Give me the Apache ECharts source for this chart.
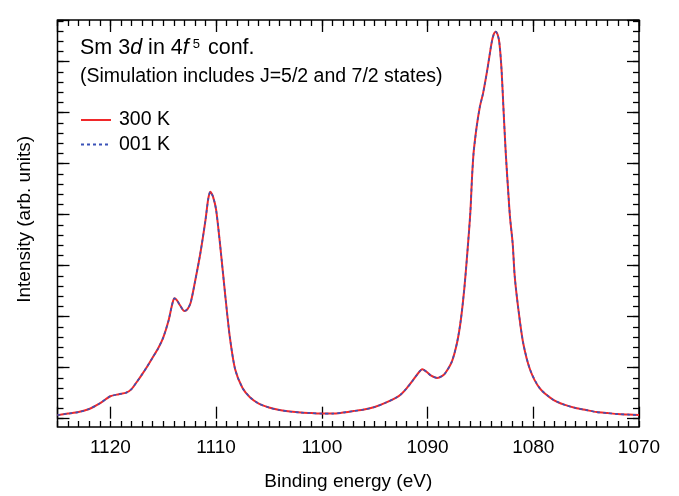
<!DOCTYPE html>
<html>
<head>
<meta charset="utf-8">
<script src="https://cdn.jsdelivr.net/npm/echarts@6/dist/echarts.min.js"></script>
<style>
html,body{margin:0;padding:0;background:#fff}
#chart{width:679px;height:496px}
</style>
</head>
<body>
<div id="chart"></div>
<script>
// binding energy (eV)
var energy = [1125, 1124, 1123, 1122, 1121, 1120, 1119.2, 1118.5, 1118, 1117.5, 1117, 1116.5, 1116, 1115.5, 1115, 1114.5, 1114.2, 1113.95, 1113.7, 1113.4, 1113, 1112.7, 1112.4, 1112, 1111.5, 1111, 1110.75, 1110.55, 1110.3, 1110, 1109.6, 1109.1, 1108.7, 1108.2, 1107.5, 1106.8, 1106, 1105, 1104, 1103, 1102, 1101, 1100, 1099, 1098, 1097, 1096, 1095, 1094, 1093, 1092.5, 1092, 1091.5, 1091, 1090.5, 1090.1, 1089.7, 1089.1, 1088.6, 1088.3, 1087.7, 1087.2, 1086.85, 1086.5, 1086.2, 1085.95, 1085.8, 1085.65, 1085.35, 1085.05, 1084.75, 1084.35, 1083.95, 1083.75, 1083.55, 1083.35, 1083.2, 1083, 1082.8, 1082.6, 1082.4, 1082.2, 1081.95, 1081.75, 1081.4, 1080.95, 1080.3, 1079.4, 1078.1, 1077, 1076, 1075, 1074, 1073, 1072, 1071, 1070];

// intensity (arb. units), one unit = one major tick
var int300K = [0.07, 0.10, 0.13, 0.19, 0.30, 0.44, 0.48, 0.51, 0.58, 0.72, 0.87, 1.03, 1.20, 1.37, 1.59, 1.92, 2.20, 2.36, 2.32, 2.22, 2.11, 2.15, 2.28, 2.68, 3.23, 3.90, 4.30, 4.45, 4.36, 4.10, 3.37, 2.35, 1.60, 0.97, 0.60, 0.42, 0.30, 0.22, 0.17, 0.14, 0.12, 0.11, 0.10, 0.10, 0.12, 0.15, 0.18, 0.23, 0.31, 0.41, 0.48, 0.59, 0.72, 0.86, 0.97, 0.92, 0.85, 0.80, 0.84, 0.90, 1.12, 1.50, 1.94, 2.60, 3.35, 4.05, 4.70, 5.20, 5.73, 6.12, 6.38, 6.84, 7.36, 7.53, 7.59, 7.52, 7.36, 6.84, 6.00, 5.20, 4.55, 3.95, 3.44, 2.78, 2.13, 1.48, 0.96, 0.60, 0.37, 0.27, 0.21, 0.17, 0.13, 0.11, 0.09, 0.08, 0.07];

var int001K = [0.07, 0.10, 0.13, 0.19, 0.30, 0.44, 0.48, 0.51, 0.58, 0.72, 0.87, 1.03, 1.20, 1.37, 1.59, 1.92, 2.20, 2.36, 2.32, 2.22, 2.11, 2.15, 2.28, 2.68, 3.23, 3.90, 4.30, 4.45, 4.36, 4.10, 3.37, 2.35, 1.60, 0.97, 0.60, 0.42, 0.30, 0.22, 0.17, 0.14, 0.12, 0.11, 0.10, 0.10, 0.12, 0.15, 0.18, 0.23, 0.31, 0.41, 0.48, 0.59, 0.72, 0.86, 0.97, 0.92, 0.85, 0.80, 0.84, 0.90, 1.12, 1.50, 1.94, 2.60, 3.35, 4.05, 4.70, 5.20, 5.73, 6.12, 6.38, 6.84, 7.36, 7.53, 7.59, 7.52, 7.36, 6.84, 6.00, 5.20, 4.55, 3.95, 3.44, 2.78, 2.13, 1.48, 0.96, 0.60, 0.37, 0.27, 0.21, 0.17, 0.13, 0.11, 0.09, 0.08, 0.07];

var seriesNames = ['300 K', '001 K'];

var font = 'Liberation Sans, Arial, Helvetica, sans-serif';

function pairs(ys) {
  return energy.map(function (e, i) { return [e, ys[i]]; });
}

// x axes: ticks on bottom and top, major every 10 eV, minor every 1 eV
function xAx(pos, interval, len, labels) {
  return {
    type: 'value', gridIndex: 0, position: pos, min: 1070, max: 1125, inverse: true,
    interval: interval,
    axisLine: {show: false},
    splitLine: {show: false},
    axisTick: {show: true, inside: true, length: len, lineStyle: {color: '#000', width: 1.3}},
    axisLabel: {
      show: labels, color: '#000', fontSize: 19, fontFamily: font, margin: 11,
      formatter: function (v) { return v % 10 === 0 ? String(v) : ''; }
    }
  };
}

// y tick axes live in grid 1, counted in minor ticks from the first major tick
function yAx(pos, interval, len) {
  return {
    type: 'value', gridIndex: 1, position: pos, min: 0, max: 39.09,
    interval: interval,
    axisLine: {show: false},
    splitLine: {show: false},
    axisLabel: {show: false},
    axisTick: {show: true, inside: true, length: len, lineStyle: {color: '#000', width: 1.3}}
  };
}

var chart = echarts.init(document.getElementById('chart'));

var xAxes = [
  xAx('bottom', 10, 12, true),
  xAx('bottom', 1, 6, false),
  xAx('top', 10, 12, false),
  xAx('top', 1, 6, false),
  {type: 'value', gridIndex: 1, min: 1070, max: 1125, inverse: true, show: false}
];
xAxes[0].name = 'Binding energy (eV)';
xAxes[0].nameLocation = 'middle';
xAxes[0].nameGap = 45;
xAxes[0].nameTextStyle = {color: '#000', fontSize: 19, fontFamily: font};

var yAxes = [
  {type: 'value', gridIndex: 0, min: -0.163, max: 7.818, show: false},
  yAx('left', 5, 12),
  yAx('left', 1, 6),
  yAx('right', 5, 12),
  yAx('right', 1, 6)
];
yAxes[1].name = 'Intensity (arb. units)';
yAxes[1].nameLocation = 'middle';
yAxes[1].nameGap = 23;
yAxes[1].nameTextStyle = {color: '#000', fontSize: 19, fontFamily: font};

chart.setOption({
  animation: false,
  backgroundColor: '#fff',
  title: [{
    left: 80, top: 37, padding: 0,
    text: '{a|Sm 3}{i|d}{a| in 4}{i|f}{s|5}{a| conf.}',
    textStyle: {
      fontWeight: 'normal',
      rich: {
        a: {fontSize: 21.5, fontFamily: font, fontWeight: 'normal', color: '#000', lineHeight: 23},
        i: {fontSize: 21.5, fontFamily: font, fontWeight: 'normal', fontStyle: 'italic', color: '#000', lineHeight: 23},
        s: {fontSize: 13, fontFamily: font, fontWeight: 'normal', color: '#000', verticalAlign: 'top', lineHeight: 13, padding: [1, 2, 0, 4]}
      }
    }
  }, {
    left: 80, top: 67, padding: 0,
    text: '(Simulation includes J=5/2 and 7/2 states)',
    textStyle: {fontSize: 19.5, fontWeight: 'normal', fontFamily: font, color: '#000'}
  }],
  legend: {
    orient: 'vertical', left: 80, top: 110, padding: 0,
    itemWidth: 30, itemHeight: 12, itemGap: 4.5,
    data: seriesNames,
    itemStyle: {opacity: 0},
    textStyle: {fontSize: 19.5, fontFamily: font, color: '#000', padding: [0, 0, 0, 3]}
  },
  grid: [
    {left: 57.5, right: 40, top: 20, bottom: 69, show: true, borderColor: '#000', borderWidth: 1.5, backgroundColor: 'transparent'},
    {left: 57.5, right: 40, top: 20, bottom: 77.3}
  ],
  xAxis: xAxes,
  yAxis: yAxes,
  series: [{
    name: seriesNames[0], type: 'line', xAxisIndex: 0, yAxisIndex: 0,
    data: pairs(int300K), symbol: 'none', smooth: 0.25,
    lineStyle: {color: '#f0282a', width: 2},
    itemStyle: {color: '#f0282a'}
  }, {
    name: seriesNames[1], type: 'line', xAxisIndex: 0, yAxisIndex: 0,
    data: pairs(int001K), symbol: 'none', smooth: 0.25,
    lineStyle: {color: '#3a52b8', width: 1.6, type: [3, 3]},
    itemStyle: {color: '#3a52b8'}
  }]
});
</script>
</body>
</html>
